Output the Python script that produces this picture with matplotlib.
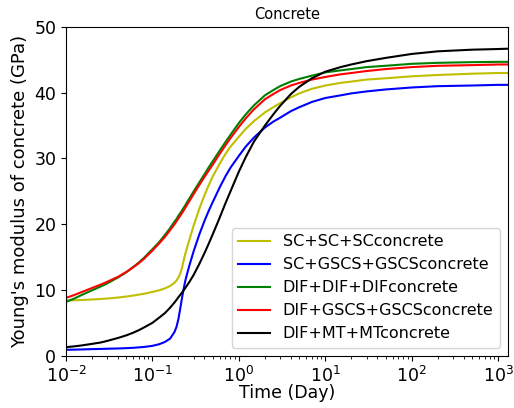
import matplotlib
matplotlib.use("Agg")
import matplotlib.pyplot as plt

time_day = [0.01, 0.012, 0.015, 0.02, 0.025, 0.03, 0.04, 0.05, 0.06, 0.07, 0.08, 0.1,
            0.12, 0.14, 0.16, 0.18, 0.19, 0.2, 0.21, 0.22, 0.23, 0.24, 0.25, 0.27,
            0.3, 0.35, 0.4, 0.45, 0.5, 0.6, 0.7, 0.8, 1, 1.2, 1.5, 2, 2.5, 3, 4, 5,
            7, 10, 15, 20, 30, 50, 100, 200, 500, 1000, 1300]

sc_sc_sc = [8.4, 8.42, 8.47, 8.55, 8.62, 8.7, 8.85, 9.0, 9.15, 9.3, 9.42, 9.7,
            9.95, 10.25, 10.6, 11.1, 11.45, 11.9, 12.5, 13.4, 14.5, 15.5, 16.3, 17.8,
            19.8, 22.4, 24.4, 26.0, 27.3, 29.2, 30.7, 31.8, 33.3, 34.5, 35.7, 37.0, 37.8, 38.4, 39.3, 39.9,
            40.6, 41.1, 41.5, 41.7, 42.0, 42.2, 42.5, 42.7, 42.9, 43.0, 43.0]
sc_gscs_gscs = [0.9, 0.92, 0.95, 1.0, 1.03, 1.06, 1.1, 1.15, 1.2, 1.27, 1.33, 1.5,
                1.75, 2.1, 2.6, 3.6, 4.4, 5.6, 7.2, 8.8, 10.2, 11.4, 12.3, 13.9,
                15.9, 18.5, 20.5, 22.1, 23.4, 25.6, 27.3, 28.6, 30.4, 31.8, 33.2, 34.7, 35.6, 36.2, 37.2, 37.8,
                38.6, 39.2, 39.6, 39.9, 40.2, 40.5, 40.8, 41.0, 41.1, 41.2, 41.2]
dif_dif_dif = [8.2, 8.6, 9.2, 9.95, 10.5, 11.0, 11.9, 12.7, 13.5, 14.2, 14.9, 16.2,
               17.3, 18.4, 19.4, 20.4, 20.8, 21.3, 21.7, 22.1, 22.5, 22.9, 23.3, 24.0,
               25.0, 26.4, 27.6, 28.7, 29.6, 31.2, 32.5, 33.6, 35.4, 36.7, 38.1, 39.6, 40.4, 41.0, 41.7, 42.1,
               42.6, 43.1, 43.4, 43.6, 43.9, 44.1, 44.4, 44.55, 44.65, 44.7, 44.7]
dif_gscs_gscs = [8.8, 9.15, 9.65, 10.3, 10.8, 11.25, 12.0, 12.75, 13.45, 14.1, 14.75, 16.0,
                 17.1, 18.1, 19.1, 20.0, 20.45, 20.9, 21.3, 21.7, 22.1, 22.5, 22.9, 23.6,
                 24.6, 26.0, 27.2, 28.2, 29.1, 30.7, 32.0, 33.1, 34.8, 36.1, 37.5, 39.0, 39.8, 40.4, 41.1, 41.5,
                 42.0, 42.4, 42.8, 43.0, 43.3, 43.6, 43.9, 44.1, 44.2, 44.3, 44.3]
dif_mt_mt = [1.3, 1.4, 1.55, 1.8, 2.0, 2.25, 2.7, 3.1, 3.5, 3.9, 4.3, 5.0,
             5.8, 6.5, 7.3, 8.1, 8.5, 8.9, 9.25, 9.6, 9.95, 10.3, 10.65, 11.3,
             12.3, 14.0, 15.6, 17.1, 18.5, 21.0, 23.2, 25.0, 28.0, 30.2, 32.6, 35.0, 36.7, 38.0, 39.8, 40.9,
             42.2, 43.2, 43.9, 44.3, 44.8, 45.3, 45.9, 46.3, 46.55, 46.65, 46.7]

series = [
    ("SC+SC+SCconcrete", sc_sc_sc, "y"),
    ("SC+GSCS+GSCSconcrete", sc_gscs_gscs, "b"),
    ("DIF+DIF+DIFconcrete", dif_dif_dif, "g"),
    ("DIF+GSCS+GSCSconcrete", dif_gscs_gscs, "r"),
    ("DIF+MT+MTconcrete", dif_mt_mt, "k"),
]

fig = plt.figure(figsize=(5.14, 4.08), dpi=100)
ax = fig.add_axes([66/514, 1-355.7/408, (508-66)/514, (355.7-27)/408])
for label, vals, c in series:
    ax.plot(time_day, vals, color=c, lw=1.5, label=label)
ax.set_xscale("log")
ax.set_xlim(0.01, 1300)
ax.set_ylim(0, 50)
ax.set_yticks([0, 10, 20, 30, 40, 50])
ax.tick_params(labelsize=12.5)
ax.set_xlabel("Time (Day)", fontsize=12.5, labelpad=-1)
ax.set_ylabel("Young's modulus of concrete (GPa)", fontsize=13)
ax.set_title("Concrete", fontsize=10.5)
ax.legend(loc="lower right", fontsize=11.5)
fig.savefig("out.png", dpi=100)
